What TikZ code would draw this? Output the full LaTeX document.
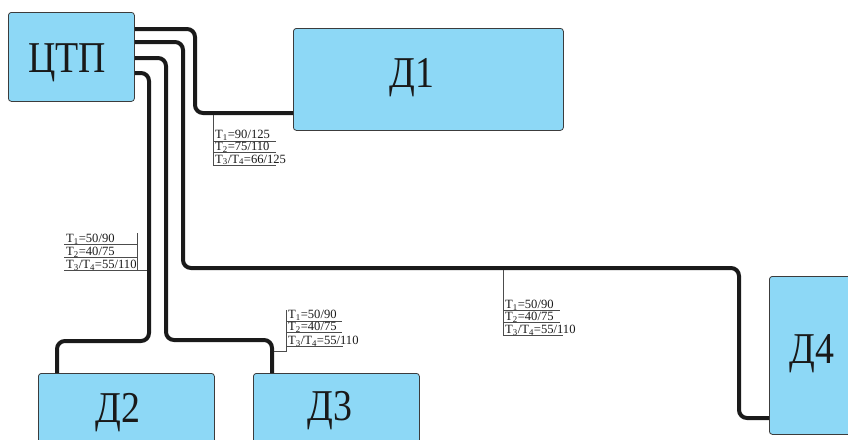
\documentclass[tikz,border=0pt]{standalone}
\usepackage{fontspec}
\setmainfont{Liberation Serif}
\newfontfamily\bigf[FakeStretch=0.86]{Liberation Serif}
\usetikzlibrary{calc}
\definecolor{boxblue}{RGB}{141,216,246}
\definecolor{boxedge}{RGB}{60,60,60}
\definecolor{pipec}{RGB}{26,26,26}
\tikzset{
  box/.style={draw=boxedge, fill=boxblue, line width=0.8pt, rounded corners=3pt, inner sep=0pt, anchor=north west},
  pipe/.style={draw=pipec, line width=4pt, rounded corners=8pt},
  callout/.style={draw=black!70, line width=0.7pt},
  tval/.style={font=\fontsize{12.6}{13}\selectfont, anchor=base west, inner sep=0pt, text height=8.5pt, text depth=0.5pt, text=black!90},
  big/.style={font=\bigf\fontsize{44}{44}\selectfont, anchor=base, inner sep=0pt, text=black!90}
}
\begin{document}
\begin{tikzpicture}[x=1pt,y=-1pt]
\useasboundingbox (0,0) rectangle (848,439);
% boxes
\node[box, minimum width=126pt, minimum height=89pt] (ctp) at (8,12) {};
\node[box, minimum width=270pt, minimum height=102pt] (d1) at (293,28) {};
\node[box, minimum width=176pt, minimum height=100pt] (d2) at (38,373) {};
\node[box, minimum width=166pt, minimum height=100pt] (d3) at (253,373) {};
\node[box, minimum width=100pt, minimum height=158pt] (d4) at (769,276) {};
% box labels
\node[big] (ctpl) at (67,72) {ЦТП};
\node[big] (d1l) at (412,87) {Д1};
\node[big] (d2l) at (118,422) {Д2};
\node[big] (d3l) at (330,420) {Д3};
\node[big] (d4l) at (812,363) {Д4};
% pipes
\draw[pipe] ($(ctp.north east)+(0,17)$) -- (195,29) -- (195,113) -- ($(d1.north west)+(0,85)$);
\draw[pipe] ($(ctp.north east)+(0,30)$) -- (183,42) -- (183,268) -- (739,268) -- (739,418) -- ($(d4.north west)+(0,142)$);
\draw[pipe] ($(ctp.north east)+(0,46)$) -- (166,58) -- (166,340) -- (272,340) -- ($(d3.north west)+(19,0)$);
\draw[pipe] ($(ctp.north east)+(0,61)$) -- (149,73) -- (149,341) -- (57,341) -- ($(d2.north west)+(19,0)$);
% callout D1
\draw[callout] (213,115) -- (213,165);
\draw[callout] (213,141) -- (276,141);
\draw[callout] (213,152) -- (276,152);
\draw[callout] (213,165) -- (276,165);
\node[tval] (a1) at (215,138.5) {T\textsubscript{1}=90/125};
\node[tval] (a2) at (215,150.5) {T\textsubscript{2}=75/110};
\node[tval] (a3) at (215,163) {T\textsubscript{3}/T\textsubscript{4}=66/125};
% callout D2
\draw[callout] (137,233) -- (137,270) -- (147,270);
\draw[callout] (64,244) -- (137,244);
\draw[callout] (64,257) -- (137,257);
\draw[callout] (64,270) -- (137,270);
\node[tval] (b1) at (66,242.5) {T\textsubscript{1}=50/90};
\node[tval] (b2) at (66,255.5) {T\textsubscript{2}=40/75};
\node[tval] (b3) at (66,268.5) {T\textsubscript{3}/T\textsubscript{4}=55/110};
% callout D3
\draw[callout] (286,310) -- (286,351) -- (274,351);
\draw[callout] (286,321) -- (342,321);
\draw[callout] (286,332) -- (342,332);
\draw[callout] (286,346) -- (343,346);
\node[tval] (c1) at (288,318.5) {T\textsubscript{1}=50/90};
\node[tval] (c2) at (288,330.5) {T\textsubscript{2}=40/75};
\node[tval] (c3) at (288,344.5) {T\textsubscript{3}/T\textsubscript{4}=55/110};
% callout D4
\draw[callout] (503,270) -- (503,335);
\draw[callout] (503,310) -- (560,310);
\draw[callout] (503,322) -- (560,322);
\draw[callout] (503,335) -- (563,335);
\node[tval] (e1) at (505,308.5) {T\textsubscript{1}=50/90};
\node[tval] (e2) at (505,320.5) {T\textsubscript{2}=40/75};
\node[tval] (e3) at (505,333.5) {T\textsubscript{3}/T\textsubscript{4}=55/110};
\end{tikzpicture}
\end{document}
